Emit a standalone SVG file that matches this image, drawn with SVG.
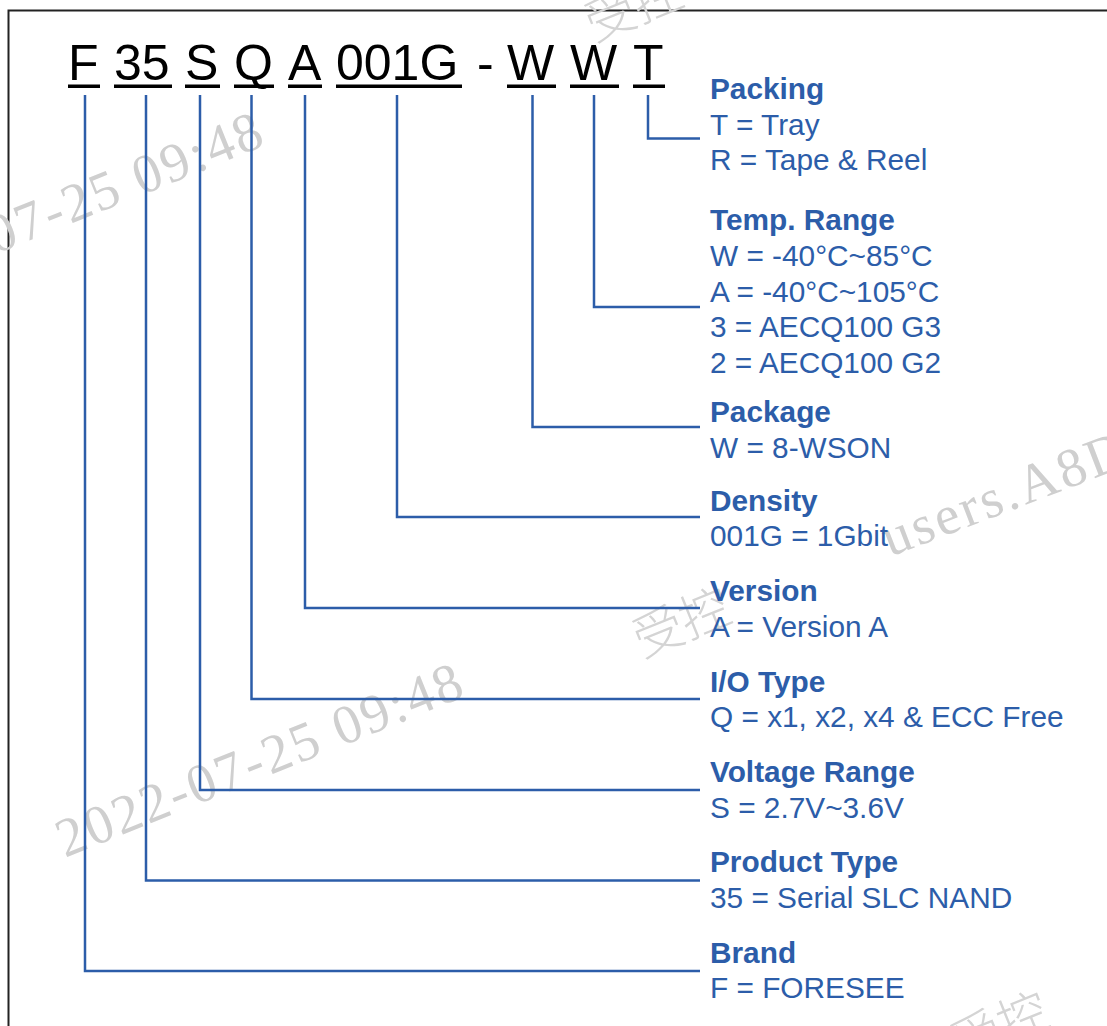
<svg xmlns="http://www.w3.org/2000/svg" width="1107" height="1026" viewBox="0 0 1107 1026">
<style>
.code{font-family:"Liberation Sans",Arial,sans-serif;font-size:50px;fill:#000}
.ul{fill:#000}
.t{font-family:"Liberation Sans",Arial,sans-serif;font-size:29.8px;fill:#2C5DA9;font-weight:bold}
.v{font-family:"Liberation Sans",Arial,sans-serif;font-size:29.8px;fill:#2C5DA9}
.wm{font-family:"Liberation Serif","Times New Roman",serif;font-size:55px;fill:#cfcfcf}
.wmc{font-family:"Noto Sans CJK SC",sans-serif;font-size:50px;fill:#d4d4d4;font-weight:300}
.conn path{fill:none;stroke:#2C5DA9;stroke-width:2.5}
</style>
<rect width="1107" height="1026" fill="#fff"/>
<path d="M8.5 1026 V10.5 H1107" fill="none" stroke="#222" stroke-width="2"/>

<g id="watermarks">
<text class="wm" transform="translate(-135,307) rotate(-22)" letter-spacing="2.5">2022-07-25 09:48</text>
<text class="wm" transform="translate(65,858) rotate(-22)" letter-spacing="2.5">2022-07-25 09:48</text>
<text class="wm" transform="translate(890,557) rotate(-21)" letter-spacing="3">users.A8D</text>
<text class="wmc" transform="translate(594,42) rotate(-22)">受控</text>
<text class="wmc" transform="translate(642,658) rotate(-22)">受控</text>
<text class="wmc" transform="translate(960,1062) rotate(-22)">受控</text>
</g>

<g id="code">
<g id="seg-F"><text class="code" x="68" y="80">F</text><rect class="ul" x="68" y="84.5" width="32" height="3.5"/></g>
<g id="seg-35"><text class="code" x="114" y="80">35</text><rect class="ul" x="114" y="84.5" width="58" height="3.5"/></g>
<g id="seg-S"><text class="code" x="185" y="80">S</text><rect class="ul" x="185" y="84.5" width="35" height="3.5"/></g>
<g id="seg-Q"><text class="code" x="234" y="80">Q</text><rect class="ul" x="234" y="84.5" width="40" height="3.5"/></g>
<g id="seg-A"><text class="code" x="288" y="80">A</text><rect class="ul" x="288" y="84.5" width="34" height="3.5"/></g>
<g id="seg-001G"><text class="code" x="336" y="80">001G</text><rect class="ul" x="336" y="84.5" width="126" height="3.5"/></g>
<g id="seg-dash"><text class="code" x="477" y="80">-</text></g>
<g id="seg-W1"><text class="code" x="507" y="80">W</text><rect class="ul" x="507" y="84.5" width="49" height="3.5"/></g>
<g id="seg-W2"><text class="code" x="570" y="80">W</text><rect class="ul" x="570" y="84.5" width="49" height="3.5"/></g>
<g id="seg-T"><text class="code" x="633" y="80">T</text><rect class="ul" x="633" y="84.5" width="32" height="3.5"/></g>
</g>

<g id="connectors" class="conn">
<path d="M648 95 V138.5 H700"/>
<path d="M594 95 V307 H700"/>
<path d="M532.5 95 V427 H700"/>
<path d="M397 95 V517 H700"/>
<path d="M305 95 V608 H700"/>
<path d="M251.5 95 V699 H700"/>
<path d="M200 95 V790 H700"/>
<path d="M146 95 V880.5 H700"/>
<path d="M85 95 V971 H700"/>
</g>

<g id="packing"><text class="t" x="710" y="99">Packing</text><text class="v" x="710" y="134.5">T = Tray</text><text class="v" x="710" y="170">R = Tape &amp; Reel</text></g>
<g id="temp-range"><text class="t" x="710" y="230">Temp. Range</text><text class="v" x="710" y="266">W = -40°C~85°C</text><text class="v" x="710" y="301.5">A = -40°C~105°C</text><text class="v" x="710" y="337">3 = AECQ100 G3</text><text class="v" x="710" y="373">2 = AECQ100 G2</text></g>
<g id="package"><text class="t" x="710" y="422">Package</text><text class="v" x="710" y="457.5">W = 8-WSON</text></g>
<g id="density"><text class="t" x="710" y="511">Density</text><text class="v" x="710" y="546">001G = 1Gbit</text></g>
<g id="version"><text class="t" x="710" y="601">Version</text><text class="v" x="710" y="636.5">A = Version A</text></g>
<g id="io-type"><text class="t" x="710" y="692">I/O Type</text><text class="v" x="710" y="727">Q = x1, x2, x4 &amp; ECC Free</text></g>
<g id="voltage-range"><text class="t" x="710" y="782">Voltage Range</text><text class="v" x="710" y="817.5">S = 2.7V~3.6V</text></g>
<g id="product-type"><text class="t" x="710" y="872">Product Type</text><text class="v" x="710" y="908">35 = Serial SLC NAND</text></g>
<g id="brand"><text class="t" x="710" y="963">Brand</text><text class="v" x="710" y="998">F = FORESEE</text></g>
</svg>
